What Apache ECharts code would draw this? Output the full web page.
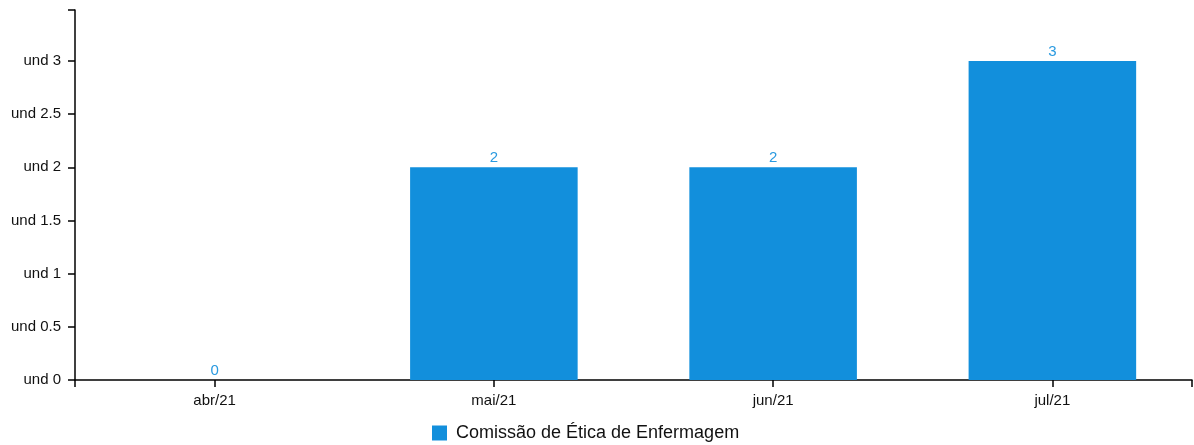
<!DOCTYPE html>
<html><head><meta charset="utf-8">
<script src="https://cdn.jsdelivr.net/npm/echarts@6/dist/echarts.min.js"></script>
<style>html,body{margin:0;padding:0;background:#fff}#c{width:1194px;height:445px}</style>
</head><body><div id="c"></div>
<script>
const categories = ['abr/21', 'mai/21', 'jun/21', 'jul/21'];
const values = [0, 2, 2, 3];
const seriesName = 'Comissão de Ética de Enfermagem';
const yUnit = 'und';

const chart = echarts.init(document.getElementById('c'), null, {renderer: 'canvas'});
const font = 'Liberation Sans, Arial, sans-serif';
chart.setOption({
  animation: false,
  grid: {left: 75, right: 2, top: 10, bottom: 65, containLabel: false},
  legend: {
    left: 427, top: 419, itemWidth: 15, itemHeight: 15, icon: 'rect',
    textStyle: {fontFamily: font, fontSize: 18, color: '#111', padding: [0, 0, 0, 4]},
    data: [seriesName]
  },
  xAxis: [{
    type: 'category', data: categories, boundaryGap: true,
    axisLine: {show: true, lineStyle: {color: '#000', width: 1.5}},
    axisTick: {show: true, interval: 0, alignWithLabel: true, length: 7, lineStyle: {color: '#000', width: 1.5}},
    axisLabel: {fontFamily: font, fontSize: 15, color: '#111', margin: 13, interval: 0},
    splitLine: {show: false}
  }, {
    type: 'value', min: 0, max: 2, interval: 2, position: 'bottom',
    axisLine: {show: false},
    axisTick: {show: true, length: 7, lineStyle: {color: '#000', width: 1.5}},
    axisLabel: {show: false}, splitLine: {show: false}, minorTick: {show: false}
  }],
  yAxis: {
    type: 'value', min: 0, max: 3.48, interval: 0.5,
    axisLine: {show: true, lineStyle: {color: '#000', width: 1.5}},
    axisTick: {show: true, length: 7, lineStyle: {color: '#000', width: 1.5}},
    axisLabel: {
      fontFamily: font, fontSize: 15, color: '#111', margin: 14,
      formatter: v => Math.abs(v * 2 - Math.round(v * 2)) < 1e-6 ? yUnit + ' ' + v : ''
    },
    splitLine: {show: false}
  },
  series: [{
    name: seriesName, type: 'bar', xAxisIndex: 0, data: values,
    barCategoryGap: '40%',
    itemStyle: {color: '#128FDC'},
    label: {show: true, position: 'top', distance: 2, fontFamily: font, fontSize: 15, color: '#2A9AE0'}
  }]
});
</script></body></html>
